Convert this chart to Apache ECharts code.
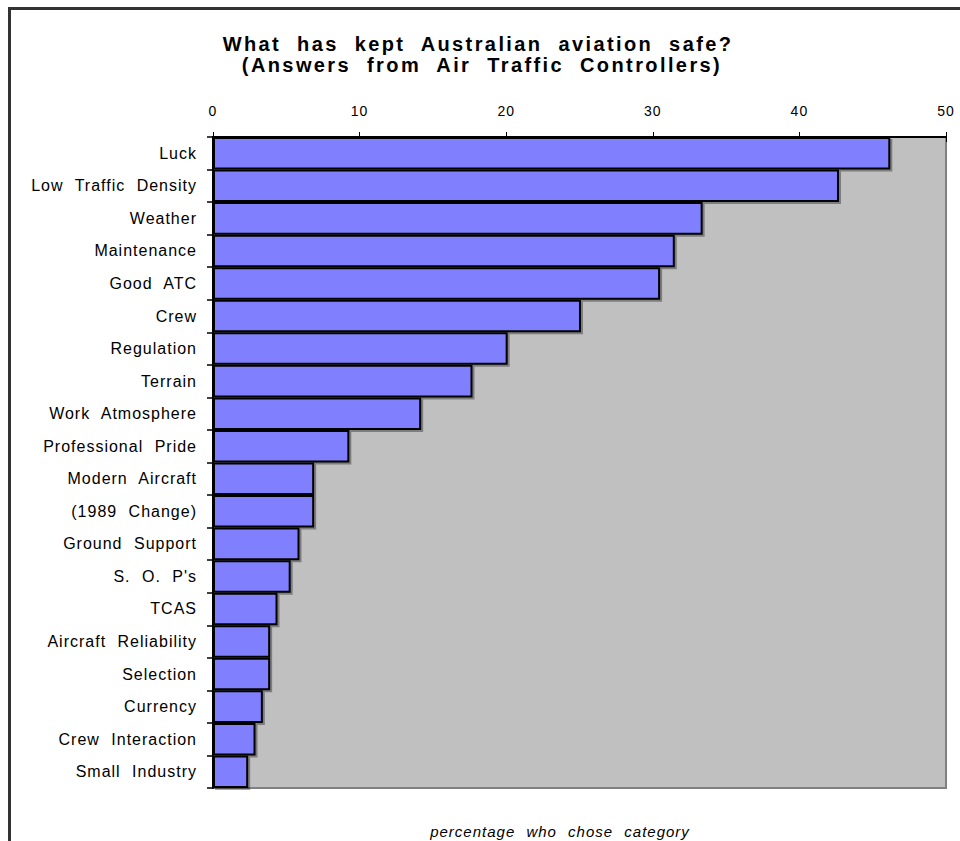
<!DOCTYPE html>
<html>
<head>
<meta charset="utf-8">
<script src="https://cdn.jsdelivr.net/npm/echarts@6/dist/echarts.min.js"></script>
<style>
  html, body { margin: 0; padding: 0; background: #fff; }
  #chart { width: 960px; height: 841px; letter-spacing: 1px; word-spacing: 6px; }
  #chart text[style*="bold"] { letter-spacing: 2.4px; word-spacing: 8px; }
</style>
</head>
<body>
<div id="chart"></div>
<script>
const titleLines = ['What has kept Australian aviation safe?', '(Answers from Air Traffic Controllers)'];
const axisTitle = 'percentage who chose category';
const categories = ['Luck', 'Low Traffic Density', 'Weather', 'Maintenance', 'Good ATC', 'Crew',
  'Regulation', 'Terrain', 'Work Atmosphere', 'Professional Pride', 'Modern Aircraft',
  '(1989 Change)', 'Ground Support', "S. O. P's", 'TCAS', 'Aircraft Reliability',
  'Selection', 'Currency', 'Crew Interaction', 'Small Industry'];
const percentages = [46.2, 42.7, 33.4, 31.5, 30.5, 25.1, 20.1, 17.7, 14.2, 9.3, 6.9, 6.9, 5.9, 5.3, 4.4, 3.9, 3.9, 3.4, 2.9, 2.4];
const xTicks = [0, 10, 20, 30, 40, 50];

const FONT = "'Liberation Sans', Arial, sans-serif";
const xMin = xTicks[0], xMax = xTicks[xTicks.length - 1], xStep = xTicks[1] - xTicks[0];

const chart = echarts.init(document.getElementById('chart'), null, { renderer: 'svg' });
chart.setOption({
  animation: false,
  backgroundColor: '#fff',
  textStyle: { fontFamily: FONT },
  grid: {
    left: 213, right: 14, top: 137, bottom: 53,
    show: true, backgroundColor: '#c0c0c0', borderColor: '#808080', borderWidth: 2,
    containLabel: false
  },
  xAxis: [{
    type: 'value', position: 'top', min: xMin, max: xMax, interval: xStep,
    axisLine: { show: true, lineStyle: { color: '#000', width: 2 } },
    axisTick: { show: true, length: 5, lineStyle: { color: '#000', width: 1 } },
    axisLabel: { color: '#000', fontSize: 14, margin: 19, fontFamily: FONT },
    splitLine: { show: false }
  }, {
    type: 'value', position: 'top', min: xMin, max: xMax, interval: xStep,
    axisLine: { show: false },
    axisTick: { show: true, inside: true, length: 5, lineStyle: { color: '#000', width: 1 } },
    axisLabel: { show: false },
    splitLine: { show: false }
  }],
  yAxis: {
    type: 'category', data: categories, inverse: true,
    axisLine: { show: true, lineStyle: { color: '#000', width: 2 } },
    axisTick: { show: true, length: 6, lineStyle: { color: '#000', width: 1.5 } },
    axisLabel: { color: '#000', fontSize: 16, margin: 16, interval: 0, fontFamily: FONT },
    splitLine: { show: false }
  },
  series: [{
    type: 'bar', xAxisIndex: 0, data: percentages, barCategoryGap: '0%',
    itemStyle: {
      color: '#8080ff', borderColor: '#000', borderWidth: 2,
      shadowColor: 'rgba(0,0,0,0.35)', shadowOffsetX: 2, shadowOffsetY: 2, shadowBlur: 0
    },
    emphasis: { disabled: true },
    z: 3
  }],
  graphic: [
    { type: 'rect', silent: true, z: 100,
      shape: { x: 9.5, y: 8.5, width: 1000, height: 1000 },
      style: { fill: 'none', stroke: '#333', lineWidth: 3 } },
    { type: 'text', silent: true, x: 478, y: 44,
      style: { text: titleLines[0], fill: '#000', font: 'bold 20px ' + FONT, textAlign: 'center', textVerticalAlign: 'middle' } },
    { type: 'text', silent: true, x: 482, y: 65,
      style: { text: titleLines[1], fill: '#000', font: 'bold 20px ' + FONT, textAlign: 'center', textVerticalAlign: 'middle' } },
    { type: 'text', silent: true, x: 560, y: 831,
      style: { text: axisTitle, fill: '#000', font: 'italic 15px ' + FONT, textAlign: 'center', textVerticalAlign: 'middle' } }
  ]
});
</script>
</body>
</html>
